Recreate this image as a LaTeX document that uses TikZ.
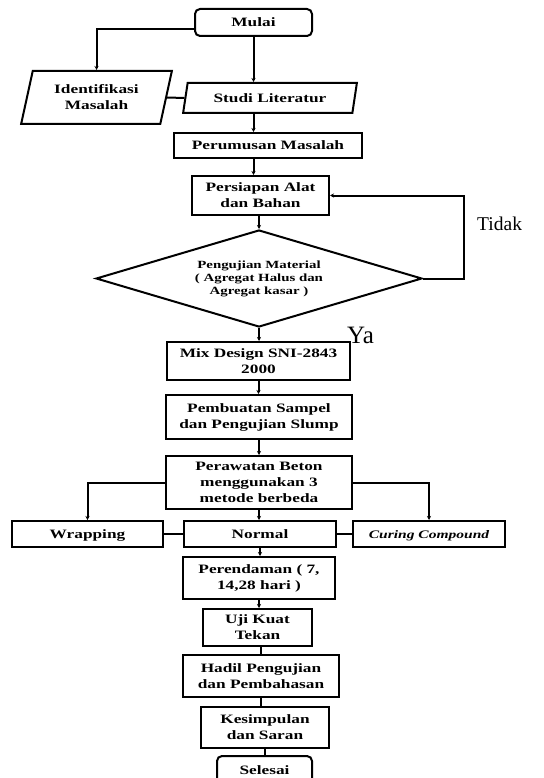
\documentclass[tikz,border=0pt]{standalone}
\usepackage{fontspec}
\setmainfont{Liberation Serif}[FakeStretch=1.35]
\newfontfamily\plainserif{Liberation Serif}
\usetikzlibrary{shapes.geometric,arrows.meta}
\begin{document}
\begin{tikzpicture}[x=1pt,y=-1pt,
  box/.style={draw, line width=2pt, inner sep=0pt, align=center,
    font=\fontsize{12.8}{16}\selectfont\bfseries},
  one/.style={text height=8.5pt, text depth=0pt},
  rbox/.style={box, rounded corners=5pt},
  para/.style={box, trapezium, trapezium stretches=true},
  dec/.style={box, diamond, font=\fontsize{11}{13}\selectfont\bfseries},
  conn/.style={line width=2pt},
  arr/.style={conn, -{Stealth[length=4pt,width=4pt]}},
  lbl/.style={inner sep=0pt, anchor=base west, font=\plainserif}
]
\clip (0,0) rectangle (543,778);
\fill[white] (0,0) rectangle (543,778);

\node[rbox, one, minimum width=117pt, minimum height=27pt] (mulai) at (253.5,22.5) {Mulai};
\node[para, trapezium left angle=73, trapezium right angle=107,
  minimum width=151pt, minimum height=53pt] (ident) at (96.5,97.5) {Identifikasi\\Masalah};
\node[para, one, trapezium left angle=70, trapezium right angle=110,
  minimum width=174pt, minimum height=30pt] (studi) at (270,98) {Studi Literatur};
\node[box, one, minimum width=188pt, minimum height=25pt] (peru) at (268,145.5) {Perumusan Masalah};
\node[box, minimum width=137pt, minimum height=39pt] (pers) at (260.5,195.5) {Persiapan Alat\\dan Bahan};
\node[dec, minimum width=326pt, minimum height=97pt, shape aspect=3.36] (dia) at (259,278.5)
  {Pengujian Material\\( Agregat Halus dan\\Agregat kasar )};
\node[box, minimum width=183pt, minimum height=38pt] (mix) at (258.5,361) {Mix Design SNI-2843\\2000};
\node[box, minimum width=186pt, minimum height=44pt] (pemb) at (259,417) {Pembuatan Sampel\\dan Pengujian Slump};
\node[box, minimum width=186pt, minimum height=53pt] (peraw) at (259,482.5) {Perawatan Beton\\menggunakan 3\\metode berbeda};
\node[box, one, minimum width=151pt, minimum height=26pt] (wrap) at (87.5,534) {Wrapping};
\node[box, one, minimum width=152pt, minimum height=26pt] (normal) at (260,534) {Normal};
\node[box, one, minimum width=152pt, minimum height=26pt, font=\fontsize{11.5}{14}\selectfont\bfseries\itshape] (curing) at (429,534) {Curing Compound};
\node[box, minimum width=152pt, minimum height=42pt] (pere) at (259,578) {Perendaman ( 7,\\14,28 hari )};
\node[box, minimum width=109pt, minimum height=37pt] (uji) at (257.5,627.5) {Uji Kuat\\Tekan};
\node[box, minimum width=156pt, minimum height=42pt] (hadil) at (261,676) {Hadil Pengujian\\dan Pembahasan};
\node[box, minimum width=128pt, minimum height=41pt] (kes) at (265,727.5) {Kesimpulan\\dan Saran};
\node[rbox, one, minimum width=95pt, minimum height=28pt] (sel) at (264.5,770) {Selesai};

\node[lbl, font=\plainserif\fontsize{19.5}{22}\selectfont] (tidak) at (477,230) {Tidak};
\node[lbl, font=\plainserif\fontsize{25}{28}\selectfont] (ya) at (347,343) {Ya};

% connectors
\draw[arr] ([yshift=-7pt]mulai.west) -| (ident.north);
\draw[arr] (mulai.south) -- (mulai.south |- studi.north);
\draw[conn] (ident.east) -- (studi.west);
\draw[arr] (mulai.south |- studi.south) -- (mulai.south |- peru.north);
\draw[arr] (mulai.south |- peru.south) -- (mulai.south |- pers.north);
\draw[arr] (dia.north |- pers.south) -- (dia.north);
\draw[arr] (dia.east) -- ++(41,0) |- (pers.east);
\draw[arr] (dia.south) -- (dia.south |- mix.north);
\draw[arr] (mix.south) -- (mix.south |- pemb.north);
\draw[arr] (pemb.south) -- (pemb.south |- peraw.north);
\draw[arr] (peraw.west) -| (wrap.north);
\draw[arr] (peraw.east) -| (curing.north);
\draw[arr] (peraw.south) -- (peraw.south |- normal.north);
\draw[conn] (wrap.east) -- (normal.west);
\draw[conn] (normal.east) -- (curing.west);
\draw[arr] (normal.south) -- (normal.south |- pere.north);
\draw[arr] (pere.south) -- (pere.south |- uji.north);
\draw[conn] (hadil.north |- uji.south) -- (hadil.north);
\draw[conn] (hadil.south) -- (hadil.south |- kes.north);
\draw[conn] (sel.north |- kes.south) -- (sel.north);
\end{tikzpicture}
\end{document}
